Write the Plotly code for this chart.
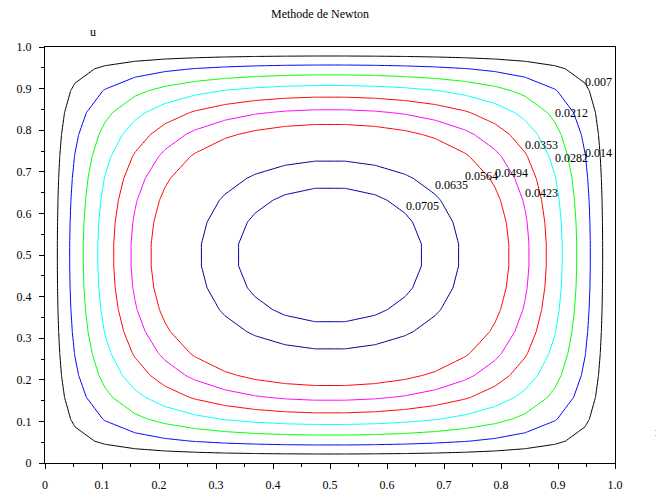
import plotly.graph_objects as go

# grid nodes (20 x 20 on the unit square)
x_nodes = [k / 19 for k in range(20)]
y_nodes = [k / 19 for k in range(20)]

# solution u on the grid (rows = y index, columns = x index)
u_rows = [
    [0, 0, 0, 0, 0, 0, 0, 0, 0, 0, 0, 0, 0, 0, 0, 0, 0, 0, 0, 0],
    [0, .00482, .00825, .01083, .01282, .01435, .01550, .01633, .01686, .01713, .01713, .01686, .01633, .01550, .01435, .01282, .01083, .00825, .00482, 0],
    [0, .00825, .01456, .01946, .02329, .02626, .02851, .03013, .03118, .03170, .03170, .03118, .03013, .02851, .02626, .02329, .01946, .01456, .00825, 0],
    [0, .01083, .01946, .02634, .03179, .03606, .03930, .04165, .04317, .04392, .04392, .04317, .04165, .03930, .03606, .03179, .02634, .01946, .01083, 0],
    [0, .01282, .02329, .03179, .03861, .04400, .04812, .05110, .05305, .05401, .05401, .05305, .05110, .04812, .04400, .03861, .03179, .02329, .01282, 0],
    [0, .01435, .02626, .03606, .04400, .05031, .05516, .05869, .06099, .06212, .06212, .06099, .05869, .05516, .05031, .04400, .03606, .02626, .01435, 0],
    [0, .01550, .02851, .03930, .04812, .05516, .06059, .06456, .06715, .06843, .06843, .06715, .06456, .06059, .05516, .04812, .03930, .02851, .01550, 0],
    [0, .01633, .03013, .04165, .05110, .05869, .06456, .06885, .07166, .07304, .07304, .07166, .06885, .06456, .05869, .05110, .04165, .03013, .01633, 0],
    [0, .01686, .03118, .04317, .05305, .06099, .06715, .07166, .07461, .07607, .07607, .07461, .07166, .06715, .06099, .05305, .04317, .03118, .01686, 0],
    [0, .01713, .03170, .04392, .05401, .06212, .06843, .07304, .07607, .07757, .07757, .07607, .07304, .06843, .06212, .05401, .04392, .03170, .01713, 0],
    [0, .01713, .03170, .04392, .05401, .06212, .06843, .07304, .07607, .07757, .07757, .07607, .07304, .06843, .06212, .05401, .04392, .03170, .01713, 0],
    [0, .01686, .03118, .04317, .05305, .06099, .06715, .07166, .07461, .07607, .07607, .07461, .07166, .06715, .06099, .05305, .04317, .03118, .01686, 0],
    [0, .01633, .03013, .04165, .05110, .05869, .06456, .06885, .07166, .07304, .07304, .07166, .06885, .06456, .05869, .05110, .04165, .03013, .01633, 0],
    [0, .01550, .02851, .03930, .04812, .05516, .06059, .06456, .06715, .06843, .06843, .06715, .06456, .06059, .05516, .04812, .03930, .02851, .01550, 0],
    [0, .01435, .02626, .03606, .04400, .05031, .05516, .05869, .06099, .06212, .06212, .06099, .05869, .05516, .05031, .04400, .03606, .02626, .01435, 0],
    [0, .01282, .02329, .03179, .03861, .04400, .04812, .05110, .05305, .05401, .05401, .05305, .05110, .04812, .04400, .03861, .03179, .02329, .01282, 0],
    [0, .01083, .01946, .02634, .03179, .03606, .03930, .04165, .04317, .04392, .04392, .04317, .04165, .03930, .03606, .03179, .02634, .01946, .01083, 0],
    [0, .00825, .01456, .01946, .02329, .02626, .02851, .03013, .03118, .03170, .03170, .03118, .03013, .02851, .02626, .02329, .01946, .01456, .00825, 0],
    [0, .00482, .00825, .01083, .01282, .01435, .01550, .01633, .01686, .01713, .01713, .01686, .01633, .01550, .01435, .01282, .01083, .00825, .00482, 0],
    [0, 0, 0, 0, 0, 0, 0, 0, 0, 0, 0, 0, 0, 0, 0, 0, 0, 0, 0, 0],
]

# contour levels and their printed labels
levels = [0.007052, 0.014104, 0.021155, 0.028207, 0.035259, 0.042311, 0.049363, 0.056414, 0.063466, 0.070518]
level_labels = ["0.007", "0.014", "0.0212", "0.0282", "0.0353", "0.0423", "0.0494", "0.0564", "0.0635", "0.0705"]

tick_vals = [0, 0.1, 0.2, 0.3, 0.4, 0.5, 0.6, 0.7, 0.8, 0.9, 1.0]
tick_text = ["0", "0.1", "0.2", "0.3", "0.4", "0.5", "0.6", "0.7", "0.8", "0.9", "1.0"]

# styling
level_colors = ["#000000", "#0000FF", "#00FF00", "#00FFFF", "#FF0000",
                "#FF00FF", "#FF0000", "#FFFFFF", "#00008F", "#0000B0"]
# label anchor positions in screen pixels (left edge, vertical centre)
label_px = [(583, 82), (583, 153), (553, 113), (553, 158), (523, 145),
            (523, 193), (493, 173), (463, 176), (433, 185), (404, 206)]

OFF = 8  # page body margin of the browser
W, H = 656, 490
PX0, PY0, PW, PH = 45, 47, 570, 416          # plot area on screen
ML, MT = PX0 - OFF, PY0 - OFF
MR, MB = W - ML - PW, H - MT - PH
SERIF = "Liberation Serif, Times New Roman, serif"


def to_data(px, py):
    return (px - PX0) / PW, (PY0 + PH - py) / PH


fig = go.Figure()
for lv, col in zip(levels, level_colors):
    fig.add_trace(go.Contour(
        x=x_nodes, y=y_nodes, z=u_rows,
        autocontour=False,
        contours=dict(start=lv, end=lv, size=1, coloring="lines", showlabels=False),
        colorscale=[[0, col], [1, col]],
        line=dict(width=1, smoothing=0),
        showscale=False, hoverinfo="skip",
    ))

for txt, (px, py) in zip(level_labels, label_px):
    ax, ay = to_data(px, py)
    fig.add_annotation(x=ax, y=ay, xref="x", yref="y",
                       text=txt, showarrow=False, xanchor="left", yanchor="middle",
                       font=dict(family=SERIF, size=12, color="black"))

for txt, (px, py) in [("u", (93, 32)), ("x", (658, 432))]:
    ax, ay = to_data(px, py)
    fig.add_annotation(x=ax, y=ay, xref="paper", yref="paper",
                       text=txt, showarrow=False, xanchor="center", yanchor="middle",
                       font=dict(family=SERIF, size=12, color="black"))

axis_common = dict(
    range=[0, 1], tickmode="array", tickvals=tick_vals, ticktext=tick_text,
    showgrid=False, zeroline=False, showline=True, mirror=True,
    linecolor="black", linewidth=1, ticks="outside", ticklen=5, tickcolor="black",
    minor=dict(ticks="outside", ticklen=3, tickcolor="black", dtick=0.05, tick0=0, showgrid=False),
    tickfont=dict(family=SERIF, size=12, color="black"),
    automargin=False,
)
fig.update_xaxes(**axis_common, ticklabelstandoff=6)
fig.update_yaxes(**axis_common, ticklabelstandoff=5)

fig.update_layout(
    width=W, height=H,
    margin=dict(l=ML, r=MR, t=MT, b=MB, pad=0),
    paper_bgcolor="white", plot_bgcolor="white",
    showlegend=False,
    title=dict(text="Methode de Newton", x=(320 - OFF) / W, xref="container", xanchor="center",
               y=1 - (14 - OFF) / H, yref="container", yanchor="middle",
               font=dict(family=SERIF, size=12, color="black")),
)
fig.write_html("out.html")
